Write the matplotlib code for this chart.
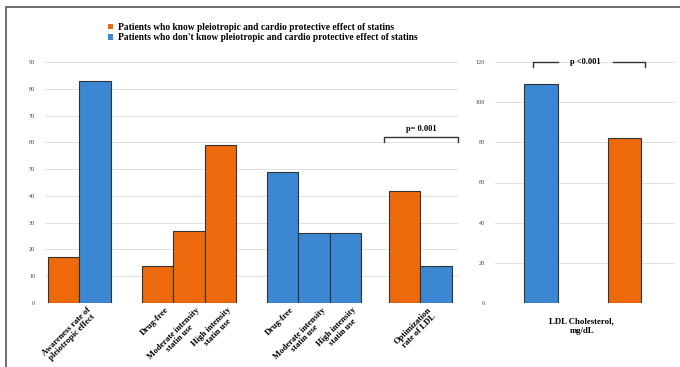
import matplotlib
matplotlib.use('Agg')
import matplotlib.pyplot as plt
from matplotlib.patches import Patch, Rectangle
from matplotlib.transforms import blended_transform_factory, ScaledTranslation

# values (percent / mg/dL)
awareness = [17, 83]
known_use = [14, 27, 59]
unknown_use = [49, 26, 26]
ldl_optimization = [42, 14]
ldl_cholesterol = [109, 82]

use_labels = ['Drug-free', 'Moderate intensity\nstatin use', 'High intensity\nstatin use']
awareness_label = 'Awareness rate of\npleiotropic effect'
optimization_label = 'Optimization\nrate of LDL'
ldl_label = 'LDL Cholesterol,\nmg/dL'
legend_labels = ['Patients who know pleiotropic and cardio protective effect of statins',
                 "Patients who don't know pleiotropic and cardio protective effect of statins"]
p_left = 'p= 0.001'
p_right = 'p <0.001'

ORANGE = '#EC6A0C'
BLUE = '#3B87D1'
EDGE = '#333333'
GRID = '#dcdcdc'
SERIF = 'Liberation Serif'

fig = plt.figure(figsize=(6.8, 3.67), dpi=100)
W, H = 680, 367


def axes_box(x0, x1, y0, y1):
    return [x0 / W, 1 - y1 / H, (x1 - x0) / W, (y1 - y0) / H]


def style_axes(ax, ymax, step):
    ax.set_ylim(0, ymax)
    ax.set_yticks(range(0, ymax + 1, step))
    ax.yaxis.grid(True, color=GRID, linewidth=0.6)
    ax.set_axisbelow(True)
    for s in ax.spines.values():
        s.set_visible(False)
    ax.tick_params(axis='y', length=0, labelsize=4.5, labelcolor='#444444', pad=7)
    ax.tick_params(axis='x', length=0)
    for t in ax.get_yticklabels():
        t.set_family(SERIF)


# ---- left panel ----
ax = fig.add_axes(axes_box(45, 458, 62, 303))
groups = [
    (awareness, [ORANGE, BLUE]),
    (known_use, [ORANGE] * 3),
    (unknown_use, [BLUE] * 3),
    (ldl_optimization, [ORANGE, BLUE]),
]
gaps = [1, 1, 0.9]
xs, heights, colors = [], [], []
x = 0
group_x = []
for i, (vals, cols) in enumerate(groups):
    gx = []
    for v, c in zip(vals, cols):
        xs.append(x)
        heights.append(v)
        colors.append(c)
        gx.append(x)
        x += 1
    group_x.append(gx)
    if i < len(gaps):
        x += gaps[i]

ax.bar(xs, heights, width=1.0, color=colors, edgecolor=EDGE, linewidth=0.8)
style_axes(ax, 90, 10)
ax.set_xlim(-0.6, 12.6)

tick_pos = [sum(group_x[0]) / 2] + group_x[1] + group_x[2] + [sum(group_x[3]) / 2]
tick_lab = [awareness_label] + use_labels + use_labels + [optimization_label]
ax.set_xticks(tick_pos)
ax.set_xticklabels(tick_lab, rotation=45, ha='right', va='top', rotation_mode='anchor',
                   family=SERIF, fontweight='bold', fontsize=6.2, linespacing=1.0,
                   multialignment='center')
ax.tick_params(axis='x', pad=2)
shift = ScaledTranslation(7 / 100, 0, fig.dpi_scale_trans)
for t in ax.get_xticklabels():
    t.set_transform(t.get_transform() + shift)

# significance bracket
bx0, bx1 = group_x[3][0] - 0.65, group_x[3][1] + 0.7
ax.plot([bx0, bx0, bx1, bx1], [60, 62, 62, 60], color='#333333', lw=1.0, clip_on=False)
ax.text((bx0 + bx1) / 2, 63.5, p_left, ha='center', va='bottom', family=SERIF,
        fontweight='bold', fontsize=6)

# ---- right panel ----
ax2 = fig.add_axes(axes_box(495, 675, 62, 303))
ax2.bar([0, 2.5], ldl_cholesterol, width=1.0, color=[BLUE, ORANGE], edgecolor=EDGE, linewidth=0.8)
style_axes(ax2, 120, 20)
ax2.set_xlim(-1.37, 4.0)
ax2.set_xticks([])
tr = blended_transform_factory(ax2.transData, ax2.transAxes)
ax2.text(1.22, -0.06, ldl_label, transform=tr, ha='center', va='top', family=SERIF,
         fontweight='bold', fontsize=6.3, linespacing=1.2)
ax2.plot([-0.24, -0.24, 0.5], [117.5, 120, 120], color='#333333', lw=1.0, clip_on=False)
ax2.plot([2.15, 3.1, 3.1], [120, 120, 117.5], color='#333333', lw=1.0, clip_on=False)
ax2.text(1.33, 120, p_right, ha='center', va='center', family=SERIF, fontweight='bold', fontsize=6)

# ---- legend ----
handles = [Patch(facecolor=ORANGE, edgecolor='none'), Patch(facecolor=BLUE, edgecolor='none')]
fig.legend(handles, legend_labels, loc='upper left', bbox_to_anchor=(104 / W, 1 - 19 / H),
           frameon=False, handlelength=0.55, handleheight=0.55, handletextpad=0.5,
           labelspacing=0.15, borderaxespad=0,
           prop={'family': SERIF, 'weight': 'bold', 'size': 6.85})

# figure frame (only left and top visible in the reference)
fig.patches.append(Rectangle((6 / W, -0.1), 1.2, 1 - 7 / H + 0.1, transform=fig.transFigure,
                             fill=False, edgecolor='#555555', linewidth=1.2))

fig.savefig('out.png', dpi=100)
